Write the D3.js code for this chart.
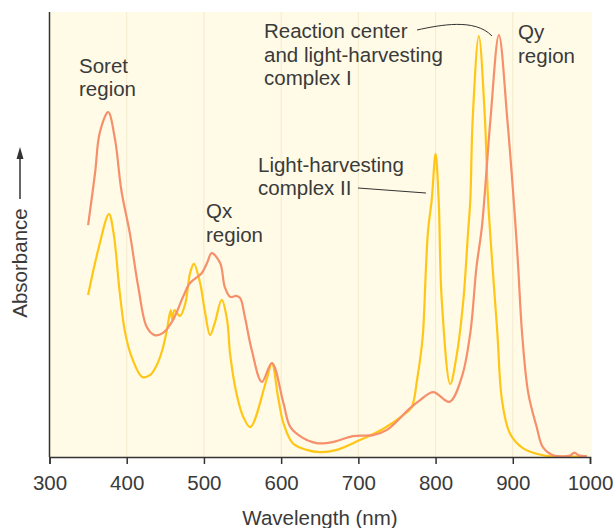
<!DOCTYPE html>
<html><head><meta charset="utf-8">
<script src="https://cdn.jsdelivr.net/npm/d3@7"></script>
<style>
body{margin:0;background:#fff;}
text{font-family:"Liberation Sans",Arial,Helvetica,sans-serif;fill:#3a3a3a;}
</style></head>
<body><svg id="c" width="615" height="528"></svg>
<script>
// Reaction center + LH1 (orange)
const rcWavelength = [350,359,365,376,385,393,404,415,426,436,447,460,473,482,497,504,510,521,527,534,542,547,553,562,575,588,603,612,628,646,668,693,719,737,767,780,797,818,834,845,853,860,871,882,893,903,907,912,920,931,939,952,970,975,980,985,996];
const rcAbsorbance = [52.1,63.8,72.8,77.5,71.2,60.0,50.3,38.2,29.2,27.4,27.9,30.8,36.0,39.1,41.3,43.6,45.8,43.6,38.2,36.0,36.2,35.7,31.5,24.0,16.9,21.1,12.1,6.7,4.3,3.1,3.4,4.7,4.9,6.1,11.0,12.8,14.6,12.4,18.0,27.9,42.7,51.7,75.7,94.8,75.7,53.3,42.7,27.9,14.4,6.7,2.2,0.4,0.2,0.4,1.0,0.4,0.2];
// Light-harvesting complex II (yellow)
const lh2Wavelength = [350,363,377,383,391,398,407,420,430,439,446,452,457,459,462,469,476,482,487,495,501,508,514,523,530,534,542,551,560,581,588,596,603,615,633,650,672,702,732,758,769,776,782,784,790,795,800,804,808,819,827,836,842,845,848,856,864,868,880,886,896,913,939,961,996];
const lh2Absorbance = [36.4,46.5,54.6,50.3,36.9,27.9,22.2,18.0,18.4,20.7,24.0,28.5,33.0,30.8,33.0,31.7,34.6,41.3,43.4,39.1,33.0,27.4,30.1,35.3,30.8,23.0,14.4,9.0,6.7,17.3,21.1,13.5,7.6,3.1,1.6,1.1,1.6,3.8,6.3,9.4,11.2,17.3,24.7,28.5,50.3,57.8,68.1,57.8,35.3,16.4,22.5,35.3,50.3,57.8,75.7,94.6,75.7,57.8,27.9,12.8,5.4,2.0,0.4,0.1,0.1];
const xTicks = [300,400,500,600,700,800,900,1000];
const gridLines = [400,500,600,700,800,900];

const svg = d3.select("#c");
const x = d3.scaleLinear().domain([300,1000]).range([49.5,590]);
const y = d3.scaleLinear().domain([0,100]).range([457,12]);

svg.append("rect").attr("x",49.5).attr("y",12).attr("width",592-49.5).attr("height",457-12).attr("fill","#fffbe6");
svg.selectAll("line.grid").data(gridLines).enter().append("line")
  .attr("x1",d=>x(d)).attr("x2",d=>x(d)).attr("y1",12).attr("y2",457)
  .attr("stroke","#f3ead0").attr("stroke-width",1);

const line = d3.line().curve(d3.curveCatmullRom.alpha(0.5)).x(d=>x(d[0])).y(d=>y(d[1]));
svg.append("path").datum(lh2Wavelength.map((w,i)=>[w,lh2Absorbance[i]]))
  .attr("d",line).attr("fill","none").attr("stroke","#ffc617").attr("stroke-width",2.2);
svg.append("path").datum(rcWavelength.map((w,i)=>[w,rcAbsorbance[i]]))
  .attr("d",line).attr("fill","none").attr("stroke","#f68f6c").attr("stroke-width",2.2);

// axes
const xAxis = d3.axisBottom(x).tickValues(xTicks).tickSize(7).tickFormat(d3.format("d"));
const gx = svg.append("g").attr("transform","translate(0,457)").call(xAxis);
gx.select(".domain").attr("stroke","#333").attr("stroke-width",1.5);
gx.selectAll(".tick line").attr("stroke","#333").attr("stroke-width",1.5);
gx.selectAll(".tick text").attr("font-size",20.5).attr("dy",null).attr("y",33).attr("fill","#3a3a3a")
  .style("font-family","'Liberation Sans',Arial,sans-serif");
svg.append("line").attr("x1",49.5).attr("x2",49.5).attr("y1",12).attr("y2",457).attr("stroke","#333").attr("stroke-width",1.5);

svg.append("text").attr("x",320).attr("y",525).attr("text-anchor","middle").attr("font-size",20.5).text("Wavelength (nm)");
svg.append("text").attr("transform","translate(27,263) rotate(-90)").attr("text-anchor","middle").attr("font-size",20.5).text("Absorbance");
svg.append("line").attr("x1",20).attr("x2",20).attr("y1",199).attr("y2",156).attr("stroke","#333").attr("stroke-width",1.5);
svg.append("path").attr("d","M20,147 L16.5,159 L23.5,159 Z").attr("fill","#333");

// annotations
function label(lines,x0,y0){
  const t = svg.append("text").attr("font-size",20.5);
  lines.forEach((s,i)=>t.append("tspan").attr("x",x0).attr("y",y0+i*23.5).text(s));
}
label(["Soret","region"],79,72.5);
label(["Qx","region"],206,218);
label(["Reaction center","and light-harvesting","complex I"],264,38);
label(["Light-harvesting","complex II"],258,171.5);
label(["Qy","region"],518,39);
svg.append("path").attr("d","M417,30 C440,25 475,18 492,36").attr("fill","none").attr("stroke","#333").attr("stroke-width",1);
svg.append("line").attr("x1",358).attr("y1",188).attr("x2",426).attr("y2",193).attr("stroke","#333").attr("stroke-width",1);
</script></body></html>
